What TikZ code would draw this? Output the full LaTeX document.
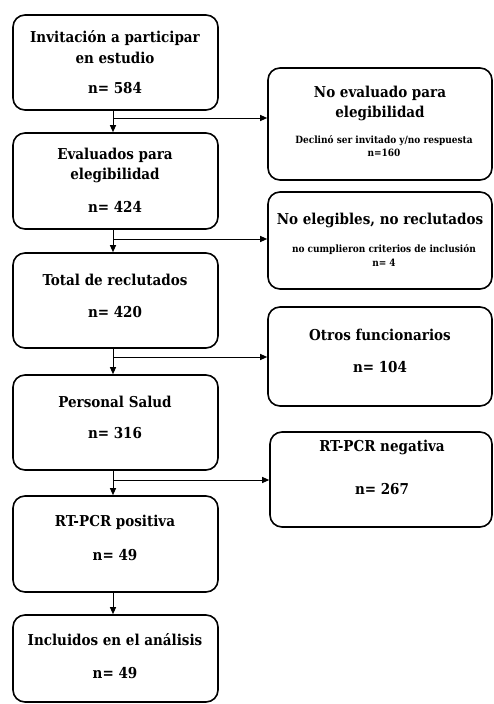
\documentclass[tikz,border=0pt]{standalone}
\usepackage{fontspec}
\setmainfont{DejaVu Serif Condensed}
\usetikzlibrary{arrows.meta,calc}
\tikzset{
  box/.style={draw=black, line width=1.6pt, rounded corners=12pt, inner sep=0pt},
  big/.style={font=\bfseries\fontsize{15}{17}\selectfont, inner sep=0pt, anchor=center},
  small/.style={font=\bfseries\fontsize{10}{12}\selectfont, inner sep=0pt, anchor=center},
  arr/.style={line width=1pt, -{Triangle[length=7pt,width=6pt]}},
  ln/.style={line width=1pt}
}
\begin{document}
\begin{tikzpicture}[x=1pt,y=-1pt]
\useasboundingbox (0,0) rectangle (494,704);
% left boxes
\node[box, minimum width=205pt, minimum height=95pt] (b1) at (115.5,62.5) {};
\node[box, minimum width=205pt, minimum height=96pt] (b2) at (115.5,181) {};
\node[box, minimum width=205pt, minimum height=95pt] (b3) at (115.5,300.5) {};
\node[box, minimum width=205pt, minimum height=95pt] (b4) at (115.5,422.5) {};
\node[box, minimum width=205pt, minimum height=96pt] (b5) at (115.5,544) {};
\node[box, minimum width=205pt, minimum height=87pt] (b6) at (115.5,658.5) {};
% right boxes
\node[box, minimum width=224pt, minimum height=112pt] (r1) at (380,124) {};
\node[box, minimum width=224pt, minimum height=97pt] (r2) at (380,240.5) {};
\node[box, minimum width=224pt, minimum height=99pt] (r3) at (380,356.5) {};
\node[box, minimum width=222pt, minimum height=95pt] (r4) at (381,479.5) {};
% left texts
\node[big] (t1a) at (115,38) {Invitación a participar};
\node[big] (t1b) at (115,58) {en estudio};
\node[big] (t1c) at (115,88) {n= 584};
\node[big] (t2a) at (115,155) {Evaluados para};
\node[big] (t2b) at (115,175) {elegibilidad};
\node[big] (t2c) at (115,207) {n= 424};
\node[big] (t3a) at (115,280) {Total de reclutados};
\node[big] (t3b) at (115,312) {n= 420};
\node[big] (t4a) at (115,402) {Personal Salud};
\node[big] (t4b) at (115,433) {n= 316};
\node[big] (t5a) at (115,522) {RT-PCR positiva};
\node[big] (t5b) at (115,555) {n= 49};
\node[big] (t6a) at (115,640) {Incluidos en el análisis};
\node[big] (t6b) at (115,673) {n= 49};
% right texts
\node[big] (s1a) at (380,93) {No evaluado para};
\node[big] (s1b) at (380,113) {elegibilidad};
\node[small] (s1c) at (384,141) {Declinó ser invitado y/no respuesta};
\node[small] (s1d) at (384,153) {n=160};
\node[big] (s2a) at (380,220) {No elegibles, no reclutados};
\node[small] (s2b) at (384,250) {no cumplieron criterios de inclusión};
\node[small] (s2c) at (384,263) {n= 4};
\node[big] (s3a) at (380,335) {Otros funcionarios};
\node[big] (s3b) at (380,367) {n= 104};
\node[big] (s4a) at (382,447) {RT-PCR negativa};
\node[big] (s4b) at (382,489) {n= 267};
% junction coordinates
\coordinate (j1) at (113,118);
\coordinate (j2) at (113,239);
\coordinate (j3) at (113,357);
\coordinate (j4) at (113,480);
% vertical arrows
\draw[arr] (b1.south -| j1) -- (b2.north -| j1);
\draw[arr] (b2.south -| j2) -- (b3.north -| j2);
\draw[arr] (b3.south -| j3) -- (b4.north -| j3);
\draw[arr] (b4.south -| j4) -- (b5.north -| j4);
\draw[arr] (b5.south -| j4) -- (b6.north -| j4);
% horizontal arrows
\draw[arr] (j1) -- (j1 -| r1.west);
\draw[arr] (j2) -- (j2 -| r2.west);
\draw[arr] (j3) -- (j3 -| r3.west);
\draw[arr] (j4) -- (j4 -| r4.west);
\end{tikzpicture}
\end{document}
